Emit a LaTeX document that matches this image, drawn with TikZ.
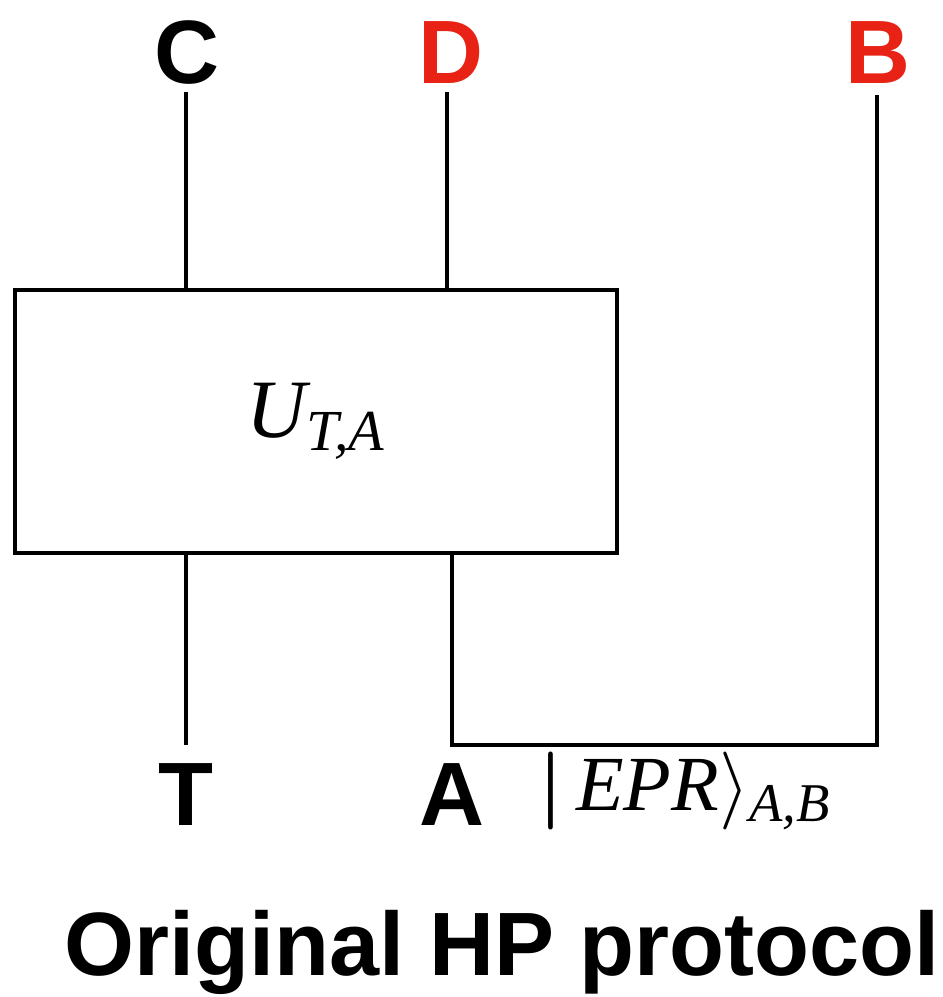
\RequirePackage{fix-cm}
\documentclass[tikz,border=0pt]{standalone}
\usepackage{amsmath}
\usepackage{fontspec}
\setmainfont{Liberation Serif}
\newfontfamily\wirefont{Liberation Sans}
\usetikzlibrary{positioning}
\definecolor{hpred}{RGB}{232,34,20}
\tikzset{
  x=0.5pt, y=-0.5pt, % one unit is one pixel of the sketch
  wire/.style={line width=2pt}, % the qubit lines
  gatebox/.style={draw, line width=2pt, minimum width=301pt,
    minimum height=131.5pt}, % the unitary
  qubit/.style={anchor=base, inner sep=4pt,
    font=\wirefont\bfseries\fontsize{45}{50}\selectfont}, % wire names
}

\begin{document}
\begin{tikzpicture}
    \useasboundingbox (0,0) rectangle (943,997);

    \node[gatebox] (U) at (316,421.5) {\fontsize{41.5}{46}\selectfont
      $\textit{U}_{\textit{T,A}}$};

    \node[qubit] (C) at (187,83) {C};
    \node[qubit, text=hpred] (D) at (451,83) {D};
    \node[qubit, text=hpred] (B) at (878,83) {B};
    \node[qubit] (T) at (186,825) {T};
    \node[qubit] (A) at (452,825) {A};
    \coordinate (pair) at (877,745);

    \node[anchor=base west, inner sep=0pt] (epr) at (538,810)
    {\fontsize{39}{44}\selectfont $\boldsymbol{|}\,\textit{EPR}\rangle_{\textit{A,B}}$};

    \node[anchor=base, inner sep=0pt,
      font=\wirefont\bfseries\fontsize{45}{50}\selectfont] (title)
    at (502,975) {Original HP protocol};

    \draw[wire]
    (186,92) -- (186,290)
    (447,92) -- (447,290)
    (186,553) -- (186,745)
    (452,553) |- (pair) -- (877,95)
    ;
  \end{tikzpicture}
\end{document}
